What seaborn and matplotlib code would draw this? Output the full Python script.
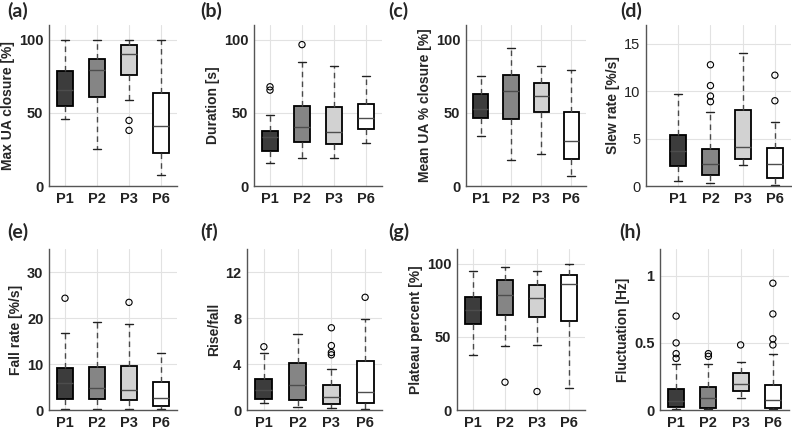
import numpy as np
import pandas as pd
import matplotlib
matplotlib.use("Agg")
import matplotlib.pyplot as plt
import seaborn as sns

groups = ["P1", "P2", "P3", "P6"]
box_colors = ["#3c3c3c", "#858585", "#d2d2d2", "#ffffff"]

# per group: lower whisker, q1, median, q3, upper whisker
max_closure = [[45.9, 55.0, 65.9, 78.9, 100.0], [25.5, 60.7, 79.0, 87.0, 100.0],
               [59.0, 75.7, 90.5, 96.0, 100.0], [7.3, 22.3, 41.0, 63.2, 100.0]]
max_closure_out = [[], [], [44.8, 38.0], []]

duration = [[15.9, 24.1, 33.4, 37.3, 48.2], [19.3, 30.0, 40.5, 54.5, 84.8],
            [19.1, 28.6, 36.8, 54.1, 82.3], [29.5, 39.1, 46.8, 56.1, 75.0]]
duration_out = [[65.5, 67.8], [96.6], [], []]

mean_closure = [[34.5, 46.6, 52.3, 62.7, 75.2], [17.7, 45.9, 65.0, 75.9, 94.5],
                [22.0, 50.5, 61.8, 70.5, 82.3], [6.6, 18.6, 30.5, 50.5, 79.5]]
mean_closure_out = [[], [], [], []]

slew_rate = [[0.5, 2.1, 3.7, 5.4, 9.75], [0.3, 1.2, 2.3, 3.86, 7.8],
             [2.2, 2.9, 4.1, 8.0, 14.0], [0.14, 0.8, 2.3, 4.0, 6.8]]
slew_rate_out = [[], [12.8, 10.6, 9.5, 8.9], [], [11.7, 9.0]]

fall_rate = [[0.2, 2.5, 5.8, 9.2, 16.7], [0.2, 2.3, 4.8, 9.4, 19.2],
             [0.2, 2.2, 4.3, 9.5, 18.8], [0.2, 0.9, 2.6, 6.0, 12.5]]
fall_rate_out = [[24.3], [], [23.4], []]

rise_fall = [[0.58, 1.0, 1.74, 2.7, 5.0], [0.3, 0.87, 2.17, 4.1, 6.6],
             [0.17, 0.5, 1.1, 2.17, 3.6], [0.09, 0.64, 1.6, 4.3, 7.9]]
rise_fall_out = [[5.5], [], [7.15, 5.6, 5.0, 4.8], [9.8]]

plateau = [[37.9, 58.9, 68.3, 77.2, 94.7], [44.0, 64.6, 78.3, 88.6, 97.7],
           [44.5, 63.7, 76.5, 85.2, 94.7], [14.8, 60.7, 86.3, 92.5, 100.0]]
plateau_out = [[], [19.0], [12.6], []]

fluctuation = [[0.007, 0.02, 0.07, 0.157, 0.34], [0.007, 0.015, 0.087, 0.17, 0.34],
               [0.092, 0.14, 0.194, 0.274, 0.36], [0.005, 0.012, 0.077, 0.187, 0.42]]
fluctuation_out = [[0.70, 0.50, 0.42, 0.385], [0.42, 0.40], [0.485], [0.945, 0.716, 0.53, 0.485]]

panels = [
    ("(a)", "Max UA closure [%]", max_closure, max_closure_out, (0, 110), [0, 50, 100]),
    ("(b)", "Duration [s]", duration, duration_out, (0, 110), [0, 50, 100]),
    ("(c)", "Mean UA % closure [%]", mean_closure, mean_closure_out, (0, 110), [0, 50, 100]),
    ("(d)", "Slew rate [%/s]", slew_rate, slew_rate_out, (0, 17), [0, 5, 10, 15]),
    ("(e)", "Fall rate [%/s]", fall_rate, fall_rate_out, (0, 35), [0, 10, 20, 30]),
    ("(f)", "Rise/fall", rise_fall, rise_fall_out, (0, 14), [0, 4, 8, 12]),
    ("(g)", "Plateau percent [%]", plateau, plateau_out, (0, 110), [0, 50, 100]),
    ("(h)", "Fluctuation [Hz]", fluctuation, fluctuation_out, (0, 1.2), [0, 0.5, 1]),
]

# axes boxes in pixels: left, right, top, bottom, xlim
W, H = 792, 432
boxes = [
    (49, 177, 25, 186, (-0.5, 3.5)),
    (254, 382, 25, 186, (-0.5, 3.5)),
    (466, 586, 25, 186, (-0.5, 3.5)),
    (646, 791, 25, 186, (-1.0, 3.5)),
    (49, 177, 249, 410, (-0.5, 3.5)),
    (247, 382, 249, 410, (-0.5, 3.5)),
    (457, 585, 249, 410, (-0.5, 3.5)),
    (660, 789, 249, 410, (-0.5, 3.5)),
]
label_pos = [(7, 11), (200, 11), (388, 11), (620, 11),
             (7, 232), (200, 232), (388, 232), (619, 232)]

sns.set_theme(style="whitegrid")
plt.rcParams["font.family"] = ["Liberation Sans", "DejaVu Sans"]

fig = plt.figure(figsize=(W / 100, H / 100), dpi=100)

for (tag, ylab, stats, outs, ylim, yticks), (l, r, t, b, xl), (lx, ly) in zip(panels, boxes, label_pos):
    ax = fig.add_axes([l / W, 1 - b / H, (r - l) / W, (b - t) / H])
    df = pd.DataFrame([(g, v) for g, s in zip(groups, stats) for v in s], columns=["group", "value"])
    sns.boxplot(data=df, x="group", y="value", hue="group", order=groups, hue_order=groups,
                palette=box_colors, saturation=1, width=0.5, whis=(0, 100), showfliers=False,
                linecolor="black", linewidth=1.3, legend=False, ax=ax,
                whiskerprops={"linestyle": (0, (4, 3)), "color": "#4a4a4a", "linewidth": 1.0},
                capprops={"color": "#222222", "linewidth": 1.0},
                medianprops={"color": "#4d4d4d", "linewidth": 1.0})
    odf = pd.DataFrame([(g, v) for g, s in zip(groups, outs) for v in s], columns=["group", "value"])
    if len(odf):
        sns.stripplot(data=odf, x="group", y="value", order=groups, jitter=False,
                      color="black", size=4.5, linewidth=0.8, edgecolor="black", ax=ax)
        for c in ax.collections:
            c.set_facecolor("none")
    ax.set_xlim(*xl)
    ax.set_ylim(*ylim)
    ax.set_yticks(yticks)
    if tag == "(h)":
        ax.set_yticklabels(["0", "0.5", "1"])
    ax.set_xlabel("")
    ax.set_ylabel(ylab, fontsize=10, fontweight="bold", labelpad=3)
    ax.grid(True, color="#e2e2e2", linewidth=0.8)
    ax.set_axisbelow(True)
    for side in ["top", "right"]:
        ax.spines[side].set_visible(False)
    for side in ["left", "bottom"]:
        ax.spines[side].set_color("#555555")
        ax.spines[side].set_linewidth(1.0)
    ax.tick_params(axis="both", length=0, pad=4, labelsize=10.5, colors="#222222")
    for lab in ax.get_xticklabels():
        lab.set_fontweight("bold")
    for lab in ax.get_yticklabels():
        lab.set_fontweight("normal" if tag == "(d)" else "bold")
    fig.text(lx / W, 1 - ly / H, tag, fontsize=14, fontweight="bold",
             family=["Lato", "DejaVu Sans"], va="center", ha="left")

fig.savefig("out.png", dpi=100)
